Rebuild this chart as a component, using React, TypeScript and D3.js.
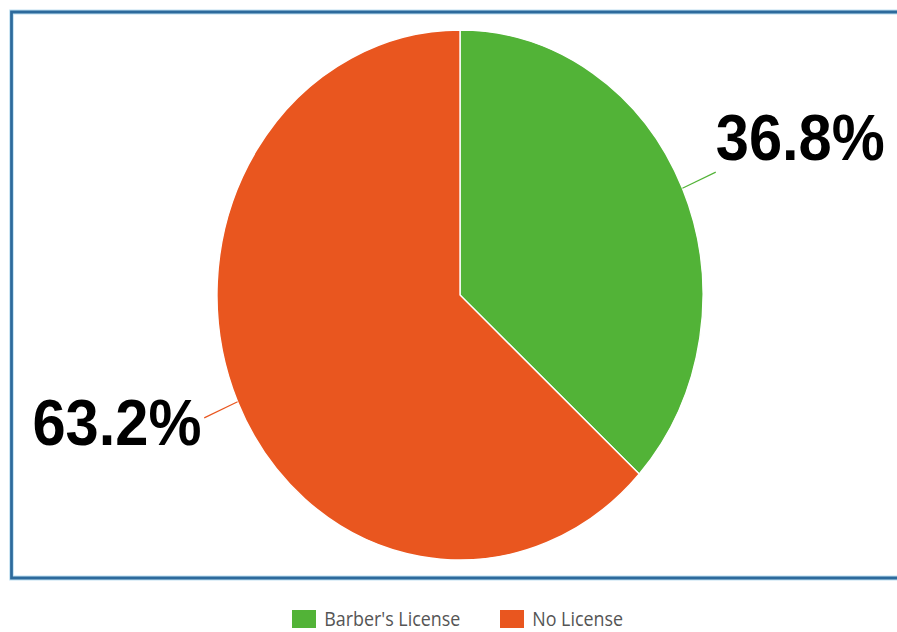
import React from "react";
import * as d3 from "d3";

const categories = ["Barber's License", "No License"];
const values = [36.8, 63.2];
const colors = ["#52b337", "#e9561f"];

const W = 897;
const H = 632;
const SX = 0.917; // horizontal squash of the reference

export default function App() {
  const cx = 460 / SX;
  const cy = 295;
  const r = 265;
  const pie = d3.pie<number>().sort(null).value((d) => d)(values);
  const arc = d3.arc<d3.PieArcDatum<number>>().innerRadius(0).outerRadius(r);

  const labels = pie.map((p, i) => {
    const a = (p.startAngle + p.endAngle) / 2;
    const s = Math.sin(a);
    const c = -Math.cos(a);
    const right = s > 0;
    const p1 = [cx + s * r, cy + c * r];
    const p2 = [cx + s * r * 1.15, cy + c * r * 1.15];
    return { i, p1, p2, right, text: values[i].toFixed(1) + "%" };
  });

  // legend layout
  const legendY = 610;
  const boxW = 24 / SX;
  const boxH = 18;
  const legendX = [292 / SX, 500 / SX];

  return (
    <svg
      width={W}
      height={H}
      style={{ position: "absolute", left: 0, top: 0, display: "block" }}
    >
      <rect x={0} y={0} width={W} height={H} fill="#fff" />
      <g transform={`scale(${SX},1)`}>
        <rect
          x={11.5 / SX}
          y={12}
          width={(W + 20) / SX}
          height={566}
          fill="none"
          stroke="#bfe0f2"
          strokeWidth={5}
        />
        <rect
          x={11.5 / SX}
          y={12}
          width={(W + 20) / SX}
          height={566}
          fill="none"
          stroke="#2d6a9c"
          strokeWidth={3}
        />
        <g transform={`translate(${cx},${cy})`}>
          {pie.map((p, i) => (
            <path
              key={i}
              d={arc(p) || ""}
              fill={colors[i]}
              stroke="#fff"
              strokeWidth={1.5}
              strokeLinejoin="round"
            />
          ))}
        </g>
        {labels.map((l) => (
          <g key={l.i}>
            <line
              x1={l.p1[0]}
              y1={l.p1[1]}
              x2={l.p2[0]}
              y2={l.p2[1]}
              stroke={colors[l.i]}
              strokeWidth={1.3}
            />
            <text
              x={l.right ? l.p2[0] + 0 : l.p2[0] - 3}
              y={l.right ? l.p2[1] - 12 : l.p2[1] + 27}
              textAnchor={l.right ? "start" : "end"}
              fontFamily="Liberation Sans, Arial, sans-serif"
              fontWeight="bold"
              fontSize={65}
              fill="#000"
            >
              {l.text}
            </text>
          </g>
        ))}
        {categories.map((c, i) => (
          <g key={c}>
            <rect
              x={legendX[i]}
              y={legendY}
              width={boxW}
              height={boxH}
              fill={colors[i]}
            />
            <text
              x={legendX[i] + boxW + 9}
              y={legendY + 16}
              fontFamily="Open Sans, sans-serif"
              fontSize={19.5}
              fill="#555"
            >
              {c}
            </text>
          </g>
        ))}
      </g>
    </svg>
  );
}
